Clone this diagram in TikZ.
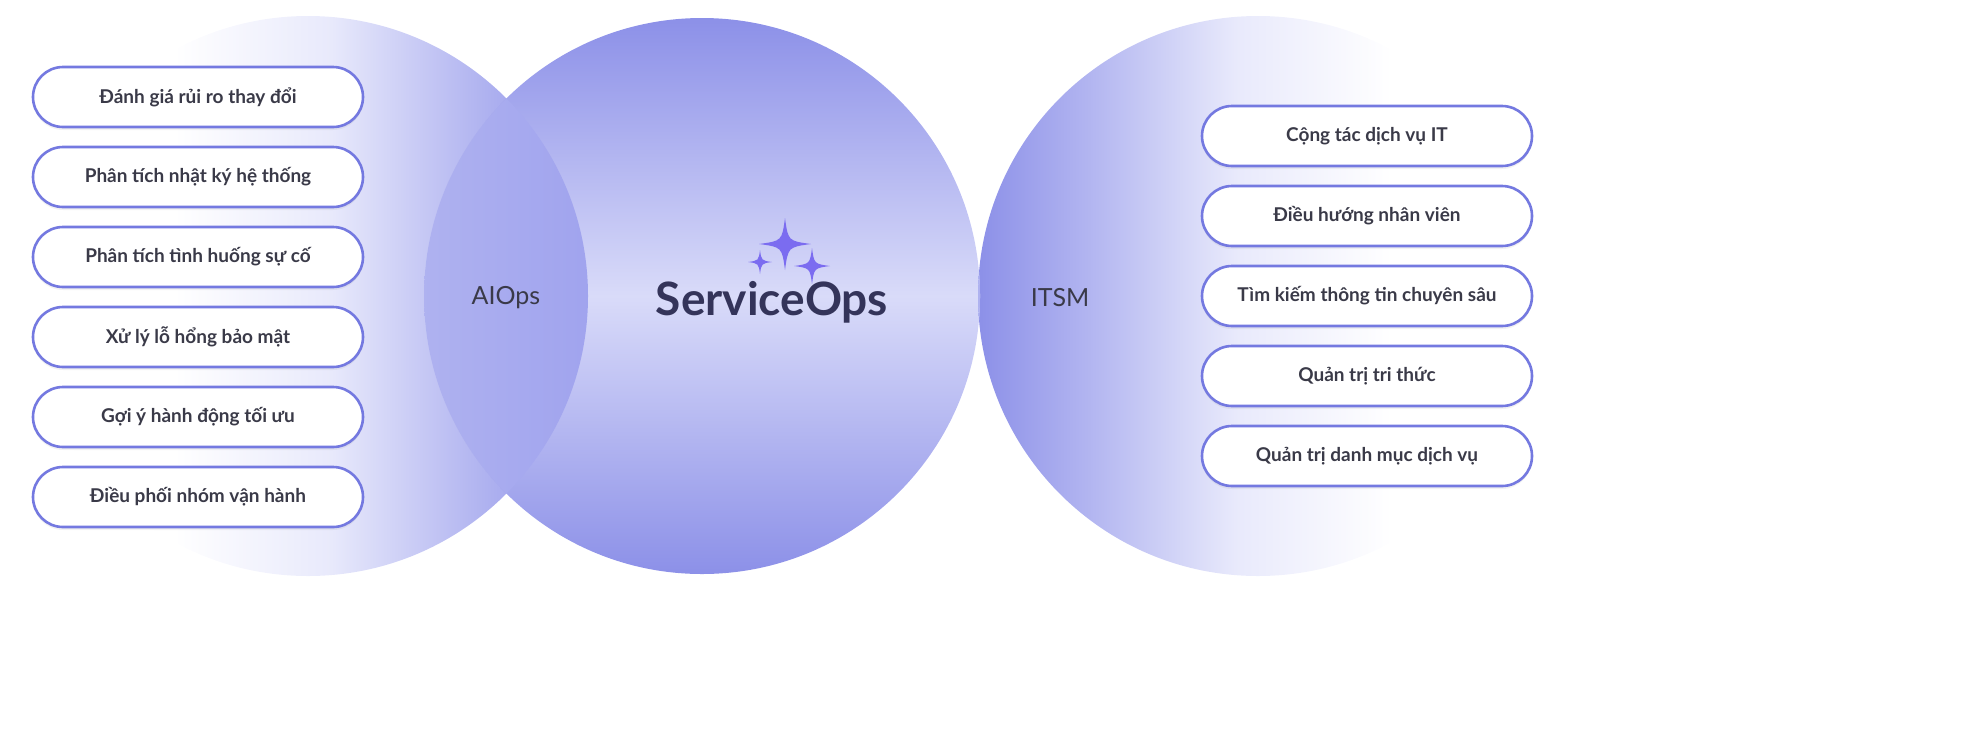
\documentclass[tikz,border=0pt]{standalone}
\usepackage{fontspec}
\setmainfont{Lato}
\usetikzlibrary{shadows}
\definecolor{lav}{HTML}{8C90E8}
\definecolor{lavl}{HTML}{D9DBF9}
\definecolor{bord}{HTML}{7479E0}
\definecolor{txt}{HTML}{3A3A48}
\definecolor{star}{HTML}{7B6CF0}
\pgfdeclarehorizontalshading{fadeR}{100bp}{color(0bp)=(white); color(38bp)=(white); color(52bp)=(lavl!60!white); color(65bp)=(lav!50!lavl); color(75bp)=(lav); color(100bp)=(lav)}
\pgfdeclarehorizontalshading{fadeL}{100bp}{color(0bp)=(lav); color(25bp)=(lav); color(35bp)=(lav!50!lavl); color(48bp)=(lavl!60!white); color(62bp)=(white); color(100bp)=(white)}
\begin{document}
\begin{tikzpicture}[x=0.5pt,y=-0.5pt,
 box/.style={draw=bord,line width=1.3pt,fill=white,rounded corners=15pt,minimum width=165pt,minimum height=30pt,font=\bfseries\fontsize{9.5}{11}\selectfont,text=txt,drop shadow={opacity=0.10,shadow xshift=0pt,shadow yshift=-1.5pt}},
 lbl/.style={font=\fontsize{12.5}{15}\selectfont,text=txt}]
\useasboundingbox (0,0) rectangle (1969,740);
% circles
\shade[shading=fadeR] (308,296) circle (280);
\shade[shading=fadeL] (1258,296) circle (280);
\shade[top color=lav,bottom color=lav,middle color=lavl] (702,296) circle (278);
\begin{scope}
\clip (308,296) circle (280);
\shade[left color=lav!55!lavl,right color=lav!90!blue] (702,296) circle (278);
\end{scope}
\begin{scope}
\clip (1258,296) circle (280);
\shade[left color=lav!90!blue,right color=lav!55!lavl] (702,296) circle (278);
\end{scope}
% labels
\node[lbl] (ai) at (506,298) {AIOps};
\node[lbl] (it) at (1060,298) {ITSM};
\node[font=\bfseries\fontsize{23}{27}\selectfont,text=txt!90!blue] (so) at (772,302) {ServiceOps};
% stars
\foreach \cx/\cy/\r in {785/244/26,760/262/12,812/266/18}{
 \fill[star] (\cx,\cy-\r) .. controls (\cx+0.12*\r,\cy-0.12*\r) .. (\cx+\r,\cy) .. controls (\cx+0.12*\r,\cy+0.12*\r) .. (\cx,\cy+\r) .. controls (\cx-0.12*\r,\cy+0.12*\r) .. (\cx-\r,\cy) .. controls (\cx-0.12*\r,\cy-0.12*\r) .. cycle;}
% boxes
\node[box] (l1) at (198,97) {Đánh giá rủi ro thay đổi};
\node[box] (l2) at (198,177) {Phân tích nhật ký hệ thống};
\node[box] (l3) at (198,257) {Phân tích tình huống sự cố};
\node[box] (l4) at (198,337) {Xử lý lỗ hổng bảo mật};
\node[box] (l5) at (198,417) {Gợi ý hành động tối ưu};
\node[box] (l6) at (198,497) {Điều phối nhóm vận hành};
\node[box] (r1) at (1367,136) {Cộng tác dịch vụ IT};
\node[box] (r2) at (1367,216) {Điều hướng nhân viên};
\node[box] (r3) at (1367,296) {Tìm kiếm thông tin chuyên sâu};
\node[box] (r4) at (1367,376) {Quản trị tri thức};
\node[box] (r5) at (1367,456) {Quản trị danh mục dịch vụ};
\end{tikzpicture}
\end{document}
